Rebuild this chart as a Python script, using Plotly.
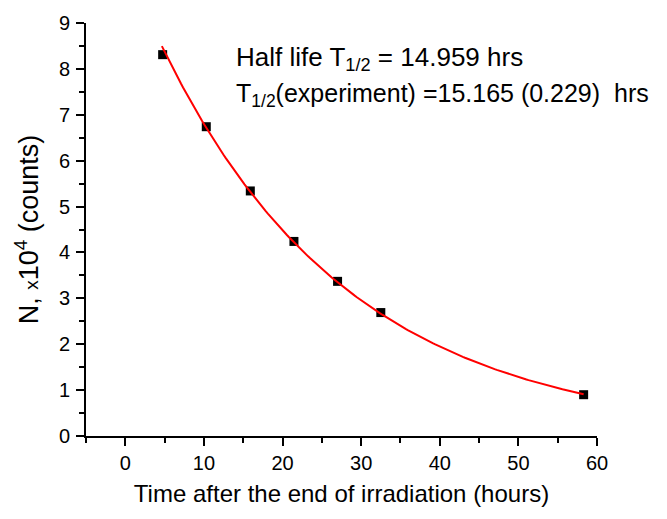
import numpy as np
import plotly.graph_objects as go

# Measured activity after the end of irradiation
time_h = [4.75, 10.3, 15.9, 21.45, 27.0, 32.5, 58.3]
counts_1e4 = [8.31, 6.74, 5.34, 4.24, 3.37, 2.69, 0.90]

half_life_ref = "14.959"
half_life_exp = "15.165"
half_life_err = "0.229"

x_ticks = [0, 10, 20, 30, 40, 50, 60]
y_ticks = [0, 1, 2, 3, 4, 5, 6, 7, 8, 9]

# Exponential decay fit (log-linear least squares)
t = np.array(time_h)
n = np.array(counts_1e4)
slope, intercept = np.polyfit(t, np.log(n), 1)
t_fit = np.linspace(t.min() - 0.1, t.max(), 200)
n_fit = np.exp(intercept + slope * t_fit)

font_family = "Arial, Liberation Sans, sans-serif"

fig = go.Figure()
fig.add_trace(go.Scatter(
    x=time_h, y=counts_1e4, mode="markers",
    marker=dict(symbol="square", size=9, color="black"),
    showlegend=False, hoverinfo="skip",
))
fig.add_trace(go.Scatter(
    x=t_fit, y=n_fit, mode="lines",
    line=dict(color="#ff0000", width=2),
    showlegend=False, hoverinfo="skip",
))

axis_common = dict(
    showgrid=False, zeroline=False,
    showline=True, linecolor="black", linewidth=2,
    ticks="outside", ticklen=8, tickwidth=1.5, tickcolor="black",
    tickfont=dict(family=font_family, size=20, color="black"),
    mirror=False,
)

fig.update_xaxes(
    range=[-5, 60], tickvals=x_ticks,
    minor=dict(dtick=5, tick0=0, ticks="outside", ticklen=5, tickwidth=1.5, tickcolor="black"),
    title=dict(text="Time after the end of irradiation (hours)",
               font=dict(family=font_family, size=24, color="black"), standoff=12),
    **axis_common,
)
fig.update_yaxes(
    range=[0, 9], tickvals=y_ticks,
    minor=dict(dtick=0.5, tick0=0, ticks="outside", ticklen=5, tickwidth=1.5, tickcolor="black"),
    title=dict(text="N, <span style='font-size:19px'>x</span>10<sup>4</sup> (counts)",
               font=dict(family=font_family, size=27, color="black"), standoff=12),
    ticklabelstandoff=2,
    **axis_common,
)

ann_x = (233.5 - 86) / 511
fig.add_annotation(
    xref="paper", yref="paper", x=ann_x, y=1 - (53 - 17) / 419,
    xanchor="left", yanchor="middle", showarrow=False,
    text=f"Half life T<sub>1/2</sub> = {half_life_ref} hrs",
    font=dict(family=font_family, size=26, color="black"),
)
fig.add_annotation(
    xref="paper", yref="paper", x=ann_x, y=1 - (90 - 17) / 419,
    xanchor="left", yanchor="middle", showarrow=False,
    text=f"T<sub>1/2</sub>(experiment) ={half_life_exp} ({half_life_err})\u00a0 hrs",
    font=dict(family=font_family, size=25, color="black"),
)

fig.update_layout(
    width=667, height=519,
    margin=dict(l=86, r=70, t=17, b=83),
    plot_bgcolor="white", paper_bgcolor="white",
)

fig.write_html("out.html")
